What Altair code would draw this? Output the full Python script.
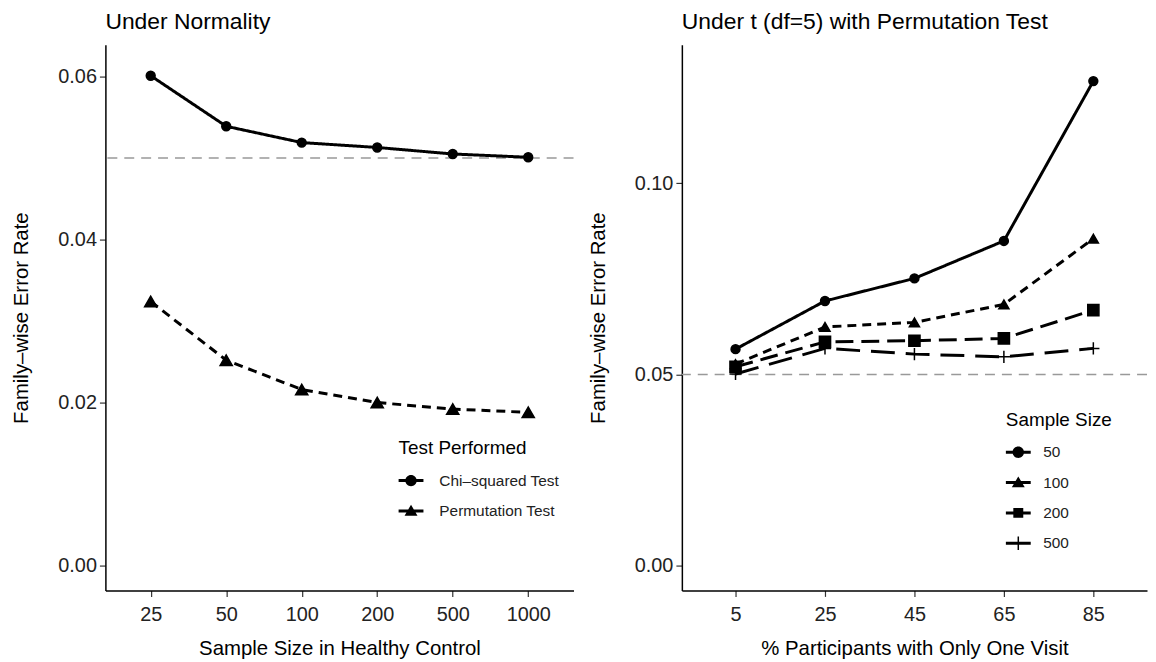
import altair as alt
import pandas as pd

FONT = "Liberation Sans"

# ---- Left panel data: Under Normality ----
sizes_hc = ["25", "50", "100", "200", "500", "1000"]
tests = ["Chi–squared Test", "Permutation Test"]
fw_chisq = [0.0601, 0.0539, 0.0519, 0.0513, 0.0505, 0.0501]
fw_perm = [0.0324, 0.0252, 0.0216, 0.0200, 0.0192, 0.0188]

# ---- Right panel data: Under t (df=5) ----
pct_single = ["5", "25", "45", "65", "85"]
sample_sizes = ["50", "100", "200", "500"]
fw_50 = [0.0566, 0.0692, 0.0751, 0.0849, 0.1267]
fw_100 = [0.0527, 0.0624, 0.0636, 0.0683, 0.0855]
fw_200 = [0.0520, 0.0585, 0.0588, 0.0594, 0.0668]
fw_500 = [0.0501, 0.0568, 0.0553, 0.0546, 0.0568]

nominal = [0.05]

# symbol paths (legend keys: line segment + marker), all clockwise subpaths
BAR = "M-1,-0.12L1,-0.12L1,0.12L-1,0.12Z"
KEY_CIRCLE = BAR + "M-0.46,0A0.46,0.46 0 1,1 0.46,0A0.46,0.46 0 1,1 -0.46,0Z"
KEY_TRI = BAR + "M0,-0.5L0.52,0.38L-0.52,0.38Z"
KEY_SQ = BAR + "M-0.4,-0.4L0.4,-0.4L0.4,0.4L-0.4,0.4Z"
KEY_PLUS = BAR + "M-0.06,-0.55L0.06,-0.55L0.06,0.55L-0.06,0.55Z"
PLUS = "M-1,0L1,0M0,-1L0,1"

df_left = pd.DataFrame({
    "n": sizes_hc * 2,
    "test": [tests[0]] * len(sizes_hc) + [tests[1]] * len(sizes_hc),
    "fwer": fw_chisq + fw_perm,
})

rows = []
for lab, vals in zip(sample_sizes, [fw_50, fw_100, fw_200, fw_500]):
    for p, v in zip(pct_single, vals):
        rows.append({"pct": p, "ss": lab, "fwer": v})
df_right = pd.DataFrame(rows)

YTITLE = "Family–wise Error Rate"


def legend(title, lx, ly, offset):
    return alt.Legend(
        title=title, orient="none", legendX=lx, legendY=ly,
        symbolSize=625, symbolFillColor="black", symbolStrokeWidth=0,
        symbolOpacity=1, labelOffset=offset, rowPadding=9.5, titlePadding=10,
        labelFontSize=15.5, titleFontSize=19, titleFontWeight="normal",
        labelColor="#222", titleColor="black", labelFont=FONT, titleFont=FONT,
    )


def panel(df, xfield, xorder, xtitle, yvals, ydomain, sfield, sdomain, dashes,
          shapes, sizes, keys, ltitle, lx, ly, loff, title, width):
    x = alt.X(f"{xfield}:O", sort=xorder,
              scale=alt.Scale(type="point", padding=0.6),
              axis=alt.Axis(title=xtitle, labelAngle=0, labelPadding=8,
                            titlePadding=14))
    y = alt.Y("fwer:Q",
              scale=alt.Scale(domain=ydomain, nice=False, zero=False),
              axis=alt.Axis(values=yvals, format=".2f", title=YTITLE,
                            titlePadding=26, labelPadding=3))
    base = alt.Chart(df)
    ref = alt.Chart(pd.DataFrame({"fwer": nominal})).mark_rule(
        color="#999999", strokeDash=[10, 7], strokeWidth=1.5
    ).encode(y=y)
    lines = base.mark_line(strokeWidth=3, color="black").encode(
        x=x, y=y,
        strokeDash=alt.StrokeDash(f"{sfield}:N",
                                  scale=alt.Scale(domain=sdomain, range=dashes),
                                  legend=None),
        detail=f"{sfield}:N",
    )
    pts = base.mark_point(filled=True, fill="black", stroke="black",
                          strokeWidth=1.5, opacity=1).encode(
        x=x, y=y,
        shape=alt.Shape(f"{sfield}:N",
                        scale=alt.Scale(domain=sdomain, range=shapes),
                        legend=None),
        size=alt.Size(f"{sfield}:N",
                      scale=alt.Scale(domain=sdomain, range=sizes),
                      legend=None),
    )
    leg = base.transform_filter("false").mark_point(
        filled=True, fill="black", opacity=1).encode(
        x=x, y=y,
        shape=alt.Shape(f"{sfield}:N",
                        scale=alt.Scale(domain=sdomain, range=keys),
                        legend=legend(ltitle, lx, ly, loff)),
    )
    return alt.layer(ref, lines, pts, leg).resolve_scale(
        shape="independent"
    ).properties(
        width=width, height=549,
        title=alt.Title(title, anchor="start", frame="group", fontSize=23,
                        fontWeight="normal", font=FONT, color="black",
                        offset=11),
    )


left = panel(df_left, "n", sizes_hc, "Sample Size in Healthy Control",
             [0, 0.02, 0.04, 0.06], [-0.00305, 0.0639], "test", tests,
             [[1, 0], [9, 6]], ["circle", "triangle-up"], [80, 150],
             [KEY_CIRCLE, KEY_TRI], "Test Performed", 295, 397, 16,
             "Under Normality", 471)

right = panel(df_right, "pct", pct_single, "% Participants with Only One Visit",
              [0, 0.05, 0.10], [-0.0065, 0.1362], "ss", sample_sizes,
              [[1, 0], [9, 6], [18, 8], [24, 11]],
              ["circle", "triangle-up", "square", PLUS], [80, 150, 81, 169],
              [KEY_CIRCLE, KEY_TRI, KEY_SQ, KEY_PLUS], "Sample Size", 326, 368.5,
              12.5, "Under t (df=5) with Permutation Test", 468)

chart = alt.hconcat(left, right, spacing=14).resolve_scale(
    x="independent", y="independent", strokeDash="independent",
    shape="independent", size="independent",
).properties(
    padding={"left": 4, "top": 1, "right": 0, "bottom": 0}
).configure(font=FONT).configure_view(stroke=None).configure_axis(
    grid=False, domainColor="black", domainWidth=1.5, tickColor="#333333",
    tickWidth=1.2, tickSize=6, labelFontSize=20, labelColor="#222222",
    titleFontSize=20.5, titleFontWeight="normal", titleColor="black",
    labelFont=FONT, titleFont=FONT,
)

chart.save("out.html", embed_options={"renderer": "svg", "actions": False})
